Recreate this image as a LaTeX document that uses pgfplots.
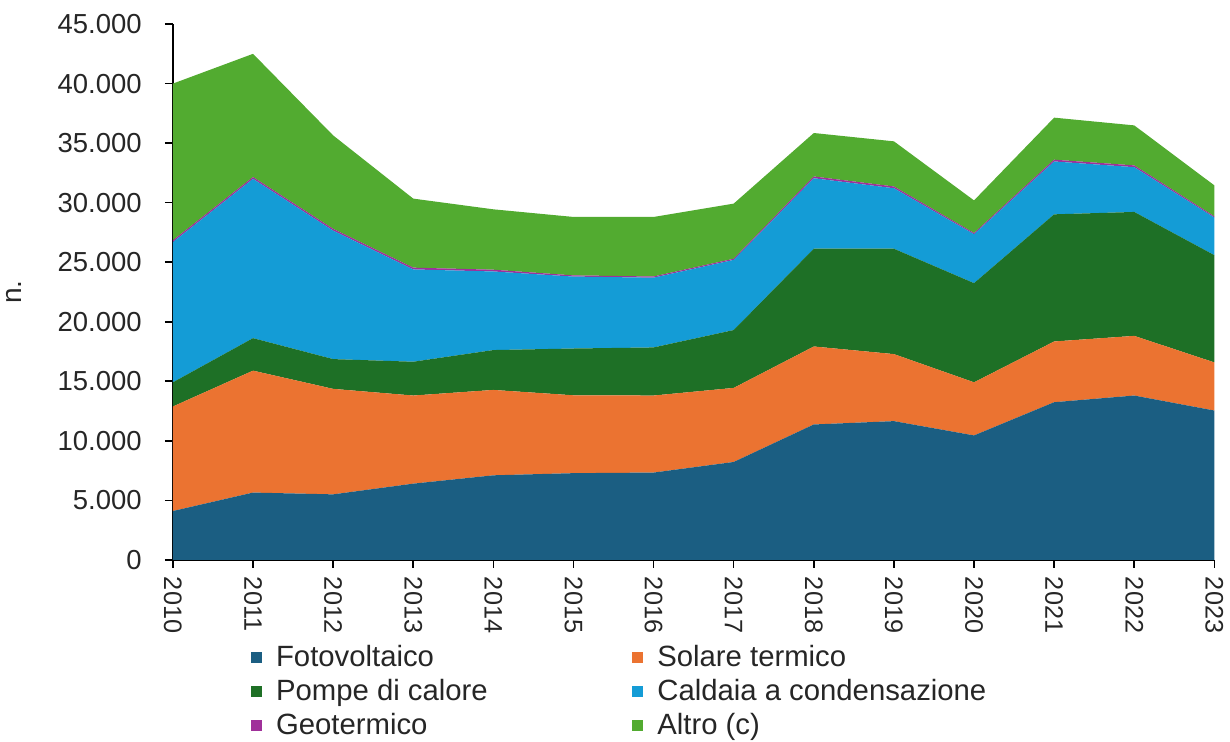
\documentclass[border=0pt]{standalone}
\usepackage{pgfplots}
\pgfplotsset{compat=1.18}
\usepackage{fontspec}
\setmainfont{Liberation Sans}
\definecolor{cfoto}{HTML}{1B5E82}
\definecolor{csol}{HTML}{EB7331}
\definecolor{cpom}{HTML}{1E7026}
\definecolor{ccal}{HTML}{149CD6}
\definecolor{cgeo}{HTML}{A0309A}
\definecolor{calt}{HTML}{52AB30}
\definecolor{ctxt}{HTML}{262626}
\begin{document}
\begin{tikzpicture}
\begin{axis}[
  scale only axis,
  width=519pt, height=267pt,
  xmin=2010, xmax=2023, ymin=0, ymax=45000,
  stack plots=y,
  axis lines*=left,
  axis line style={black, line width=0.8pt},
  tick style={black, line width=0.8pt},
  tick align=outside,
  major tick length=4pt,
  xtick={2010,2011,...,2023},
  ytick={0,5000,...,45000},
  /pgf/number format/assume math mode=true,
  yticklabel style={/pgf/number format/.cd, 1000 sep={.}, /tikz/.cd, xshift=-8pt, text=ctxt, font=\fontsize{13.7pt}{16pt}\selectfont},
  xticklabel style={/pgf/number format/1000 sep={}, rotate=-90, anchor=west, xshift=1pt, text=ctxt, font=\fontsize{12.6pt}{15pt}\selectfont},
  scaled y ticks=false,
  ylabel={n.},
  ylabel style={text=ctxt, font=\fontsize{14pt}{16pt}\selectfont, yshift=11pt},
  legend columns=2,
  legend cell align=left,
  legend style={draw=none, inner sep=0pt, at={(axis description cs:0.0746,-0.152)}, anchor=north west,
    font=\fontsize{14.6pt}{16pt}\selectfont, text=ctxt,
    /tikz/every even column/.append style={column sep=70pt},
    /tikz/every odd column/.append style={column sep=5pt},
    row sep=0.8pt},
  legend image code/.code={\fill[#1] (0pt,-2.75pt) rectangle (5.5pt,2.75pt);},
  after end axis/.code={\path (rel axis cs:0,1) ++(0pt,12pt);},
]
\addplot[fill=cfoto, draw=none] coordinates {(2010,4100)(2011,5650)(2012,5500)(2013,6400)(2014,7100)(2015,7280)(2016,7330)(2017,8220)(2018,11370)(2019,11650)(2020,10450)(2021,13240)(2022,13800)(2023,12540)} \closedcycle;
\addlegendentry{Fotovoltaico}
\addplot[fill=csol, draw=none] coordinates {(2010,8780)(2011,10240)(2012,8860)(2013,7400)(2014,7170)(2015,6540)(2016,6470)(2017,6220)(2018,6550)(2019,5630)(2020,4460)(2021,5100)(2022,5010)(2023,4040)} \closedcycle;
\addlegendentry{Solare termico}
\addplot[fill=cpom, draw=none] coordinates {(2010,2030)(2011,2730)(2012,2500)(2013,2840)(2014,3350)(2015,3930)(2016,4040)(2017,4860)(2018,8210)(2019,8850)(2020,8330)(2021,10680)(2022,10410)(2023,9010)} \closedcycle;
\addlegendentry{Pompe di calore}
\addplot[fill=ccal, draw=none] coordinates {(2010,11780)(2011,13380)(2012,10790)(2013,7750)(2014,6600)(2015,6040)(2016,5860)(2017,5890)(2018,5920)(2019,5080)(2020,4110)(2021,4440)(2022,3760)(2023,3160)} \closedcycle;
\addlegendentry{Caldaia a condensazione}
\addplot[fill=cgeo, draw=none] coordinates {(2010,150)(2011,150)(2012,150)(2013,150)(2014,150)(2015,100)(2016,100)(2017,100)(2018,150)(2019,150)(2020,100)(2021,150)(2022,150)(2023,100)} \closedcycle;
\addlegendentry{Geotermico}
\addplot[fill=calt, draw=none] coordinates {(2010,13160)(2011,10350)(2012,7850)(2013,5800)(2014,5070)(2015,4910)(2016,5000)(2017,4630)(2018,3650)(2019,3790)(2020,2740)(2021,3530)(2022,3360)(2023,2600)} \closedcycle;
\addlegendentry{Altro (c)}
\end{axis}
\end{tikzpicture}
\end{document}
